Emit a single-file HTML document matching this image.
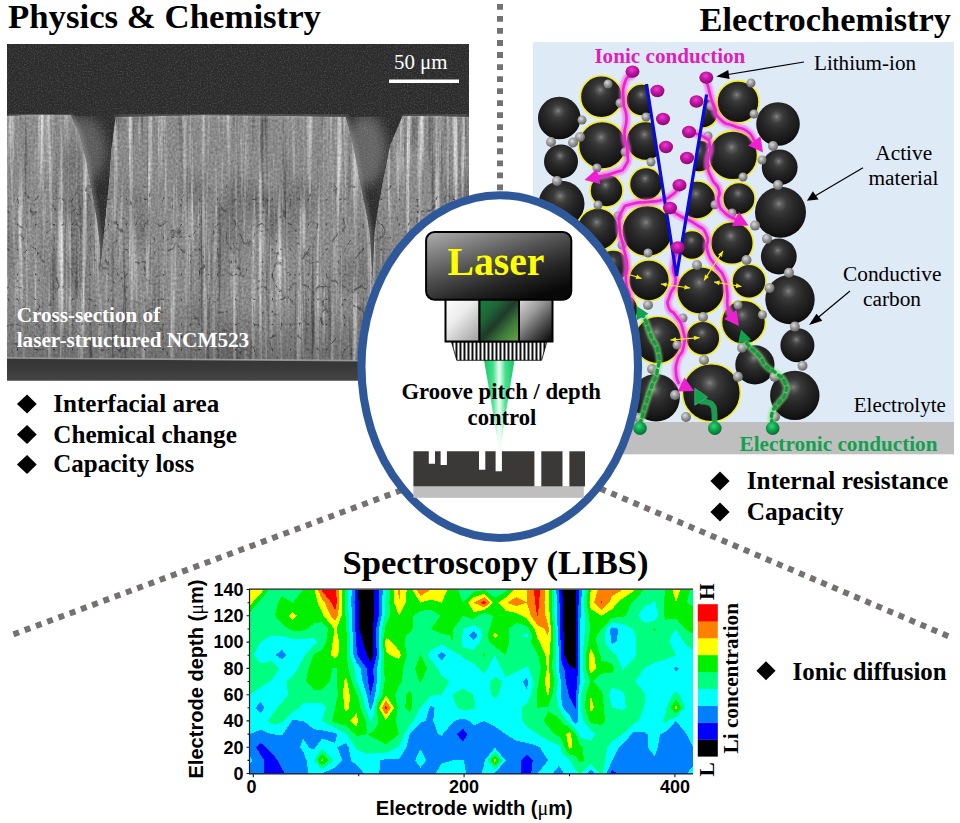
<!DOCTYPE html>
<html>
<head>
<meta charset="utf-8">
<title>Laser structuring of battery electrodes</title>
<style>
html,body{margin:0;padding:0;background:#fff;}
body{width:960px;height:823px;overflow:hidden;font-family:"Liberation Serif",serif;}
svg{display:block;position:absolute;left:0;top:0;}
svg{font-family:"Liberation Serif",serif;}
.b{font-weight:bold;}
.sans,.sans text{font-family:"Liberation Sans",sans-serif;font-weight:bold;}
</style>
</head>
<body>
<svg width="960" height="823" viewBox="0 0 960 823">
<rect x="0" y="0" width="960" height="823" fill="#ffffff"/>
<!-- ===== SEM image ===== -->
<defs>
  <clipPath id="gr1"><path d="M68,116 L118,116 L101,270 Z"/></clipPath><clipPath id="gr2"><path d="M344,117 L405,116 L373,280 Z"/></clipPath>
  <clipPath id="semclip"><rect x="7" y="44" width="462" height="336.8"/></clipPath>
  <filter id="streak" x="0" y="0" width="100%" height="100%" color-interpolation-filters="sRGB">
    <feTurbulence type="fractalNoise" baseFrequency="0.17 0.005" numOctaves="4" seed="7" result="n1"/>
    <feColorMatrix in="n1" type="matrix" values="0 0 0 0 1  0 0 0 0 1  0 0 0 0 1  2.1 0 0 0 -1.06" result="light"/>
    <feColorMatrix in="n1" type="matrix" values="0 0 0 0 0  0 0 0 0 0  0 0 0 0 0  0 -1.5 0 0 0.6" result="dark"/>
    <feTurbulence type="fractalNoise" baseFrequency="0.02 0.012" numOctaves="2" seed="5" result="n3"/>
    <feColorMatrix in="n3" type="matrix" values="0 0 0 0 0  0 0 0 0 0  0 0 0 0 0  0 0 -0.7 0 0.33" result="blot"/>
    <feMerge result="m"><feMergeNode in="SourceGraphic"/><feMergeNode in="blot"/><feMergeNode in="dark"/><feMergeNode in="light"/></feMerge>
    <feTurbulence type="fractalNoise" baseFrequency="0.45 0.35" numOctaves="2" seed="3" result="n2"/>
    <feColorMatrix in="n2" type="matrix" values="0 1 0 0 0  0 1 0 0 0  0 1 0 0 0  0 0 0 0 1" result="g2"/>
    <feComposite in="m" in2="g2" operator="arithmetic" k1="0" k2="1" k3="0.26" k4="-0.13" result="mix"/>
    <feComposite in="mix" in2="SourceGraphic" operator="in"/>
  </filter>
  <filter id="pores" x="0" y="0" width="100%" height="100%" color-interpolation-filters="sRGB">
    <feTurbulence type="turbulence" baseFrequency="0.055 0.04" numOctaves="3" seed="21" result="t"/>
    <feColorMatrix in="t" type="matrix" values="0 0 0 0 0.25  0 0 0 0 0.25  0 0 0 0 0.25  -9 0 0 0 0.95" result="a"/>
    <feComposite in="a" in2="SourceGraphic" operator="in"/>
  </filter>
  <filter id="grain" x="0" y="0" width="100%" height="100%" color-interpolation-filters="sRGB">
    <feTurbulence type="fractalNoise" baseFrequency="0.7" numOctaves="2" seed="11" result="n"/>
    <feColorMatrix in="n" type="matrix" values="0 0 0 0 1  0 0 0 0 1  0 0 0 0 1  0 0.35 0 0 -0.15" result="a"/>
    <feMerge><feMergeNode in="SourceGraphic"/><feMergeNode in="a"/></feMerge>
  </filter>
  <filter id="b2" x="-20%" y="-20%" width="140%" height="140%"><feGaussianBlur stdDeviation="2.2"/></filter>
  <filter id="b6" x="-30%" y="-30%" width="160%" height="160%"><feGaussianBlur stdDeviation="6"/></filter>
  <linearGradient id="botstrip" x1="0" y1="0" x2="0" y2="1">
    <stop offset="0" stop-color="#343434"/><stop offset="0.45" stop-color="#3a3a3a"/><stop offset="1" stop-color="#454545"/>
  </linearGradient>
  <linearGradient id="lowfade" x1="0" y1="0" x2="0" y2="1">
    <stop offset="0" stop-color="#000" stop-opacity="0"/><stop offset="1" stop-color="#000" stop-opacity="0.22"/>
  </linearGradient>
</defs>
<g clip-path="url(#semclip)">
  <rect x="7" y="44" width="462" height="336" fill="#2b2b2b"/>
  <!-- haze inside grooves -->
  <g clip-path="url(#gr1)"><ellipse cx="82" cy="150" rx="24" ry="34" fill="#5c5c5c" filter="url(#b6)"/></g>
  <g clip-path="url(#gr2)"><ellipse cx="366" cy="150" rx="20" ry="36" fill="#646464" filter="url(#b6)"/></g>
  <rect x="7" y="44" width="462" height="336" fill="#000" fill-opacity="0" filter="url(#grain)"/>
  <!-- material blocks -->
  <g filter="url(#streak)">
    <path id="semblocks" d="M7,116 L30,114.5 L71,115 L80,135 L86,160 L92,190 L97,220 L100,245 L100.5,266 L102,250 L105,220 L108.8,182 L111,150 L115.5,117 L200,115 L300,116 L346,117 L352,140 L358,170 L364,200 L369.5,230 L372.5,276 L374.5,232 L377.5,210 L382.5,182 L390,145 L402.5,116 L440,116 L469,117 L469,362 L7,358.5 Z" fill="#8a8a8a"/>
  </g>
  <g filter="url(#pores)"><rect x="7" y="185" width="462" height="173" fill="#fff"/></g>
  <!-- bright rims -->
  <path d="M7,116 L30,114.5 L71,115 M115.5,117 L200,115 L300,116 L346,117 M402.5,116 L440,116 L469,117" fill="none" stroke="#c4c4c4" stroke-width="2.2" stroke-opacity="0.6" filter="url(#b2)"/>
  <path d="M71,115 L80,135 L86,160 L92,190 L97,220 L100,245 L100.5,266 M346,117 L352,140 L358,170 L364,200 L369.5,230 L372.5,276" fill="none" stroke="#bdbdbd" stroke-width="3" stroke-opacity="0.55" filter="url(#b2)"/>
  <rect x="7" y="300" width="462" height="62" fill="url(#lowfade)"/>
  <path d="M7,358 L469,361.5 L469,381 L7,381 Z" fill="url(#botstrip)"/>
  <path d="M7,358 L469,361.5" stroke="#b0b0b0" stroke-width="1.6" stroke-opacity="0.75"/>
</g>
<rect x="389" y="79.5" width="70" height="3.5" fill="#ffffff"/>
<text x="394" y="69" font-size="21.33" fill="#ffffff" textLength="53.5" lengthAdjust="spacingAndGlyphs">50 μm</text>
<!-- ===== Electrochemistry panel ===== -->
<defs>
  <radialGradient id="sg" cx="0.47" cy="0.36" r="0.62" fx="0.47" fy="0.33">
    <stop offset="0" stop-color="#858585"/><stop offset="0.1" stop-color="#5c5c5c"/><stop offset="0.25" stop-color="#3a3a3a"/><stop offset="0.5" stop-color="#282828"/><stop offset="0.85" stop-color="#181818"/><stop offset="1" stop-color="#0e0e0e"/>
  </radialGradient>
  <radialGradient id="gg" cx="0.4" cy="0.35" r="0.7">
    <stop offset="0" stop-color="#dcdcdc"/><stop offset="0.45" stop-color="#9c9c9c"/><stop offset="1" stop-color="#5e5e5e"/>
  </radialGradient>
  <radialGradient id="ig" cx="0.45" cy="0.35" r="0.7">
    <stop offset="0" stop-color="#e93fd0"/><stop offset="0.45" stop-color="#c213a4"/><stop offset="1" stop-color="#7a0a66"/>
  </radialGradient>
  <radialGradient id="eg" cx="0.42" cy="0.35" r="0.7">
    <stop offset="0" stop-color="#3ed07a"/><stop offset="0.5" stop-color="#0aa14a"/><stop offset="1" stop-color="#04662c"/>
  </radialGradient>
  <filter id="blur1" x="-20%" y="-20%" width="140%" height="140%"><feGaussianBlur stdDeviation="1.3"/></filter>
  <clipPath id="panelclip"><rect x="533" y="42" width="421" height="412"/></clipPath>
</defs>
<rect x="533" y="42" width="421" height="380" fill="#dfeaf7"/>
<rect x="533" y="422" width="421" height="32.3" fill="#bfbfbf"/>
<g clip-path="url(#panelclip)">
<g id="bigs">
<circle cx="559.3" cy="118" r="21.3" fill="url(#sg)"/>
<circle cx="561" cy="161.4" r="17" fill="url(#sg)"/>
<circle cx="561.5" cy="203.8" r="23" fill="url(#sg)"/>
<circle cx="601.4" cy="96.8" r="21" fill="url(#sg)" stroke="#f4ee1c" stroke-width="1.6"/>
<circle cx="602.3" cy="145.2" r="23.8" fill="url(#sg)" stroke="#f4ee1c" stroke-width="1.6"/>
<circle cx="606.5" cy="190.5" r="16.5" fill="url(#sg)" stroke="#f4ee1c" stroke-width="1.6"/>
<circle cx="598" cy="229.3" r="21" fill="url(#sg)" stroke="#f4ee1c" stroke-width="1.6"/>
<circle cx="613" cy="266" r="16" fill="url(#sg)" stroke="#f4ee1c" stroke-width="1.6"/>
<circle cx="642" cy="100" r="16" fill="url(#sg)" stroke="#f4ee1c" stroke-width="1.6"/>
<circle cx="645.6" cy="141" r="19.5" fill="url(#sg)" stroke="#f4ee1c" stroke-width="1.6"/>
<circle cx="646" cy="184" r="16.5" fill="url(#sg)" stroke="#f4ee1c" stroke-width="1.6"/>
<circle cx="647.3" cy="231" r="25.5" fill="url(#sg)" stroke="#f4ee1c" stroke-width="1.6"/>
<circle cx="649" cy="280.3" r="20.4" fill="url(#sg)" stroke="#f4ee1c" stroke-width="1.6"/>
<circle cx="703" cy="113" r="15" fill="url(#sg)" stroke="#f4ee1c" stroke-width="1.6"/>
<circle cx="699" cy="156" r="16" fill="url(#sg)" stroke="#f4ee1c" stroke-width="1.6"/>
<circle cx="697" cy="200" r="19" fill="url(#sg)" stroke="#f4ee1c" stroke-width="1.6"/>
<circle cx="692" cy="245" r="14.5" fill="url(#sg)" stroke="#f4ee1c" stroke-width="1.6"/>
<circle cx="738" cy="101.9" r="21" fill="url(#sg)" stroke="#f4ee1c" stroke-width="1.6"/>
<circle cx="733" cy="155.4" r="24.5" fill="url(#sg)" stroke="#f4ee1c" stroke-width="1.6"/>
<circle cx="738.9" cy="198.7" r="16.2" fill="url(#sg)" stroke="#f4ee1c" stroke-width="1.6"/>
<circle cx="732" cy="243" r="21.3" fill="url(#sg)" stroke="#f4ee1c" stroke-width="1.6"/>
<circle cx="749" cy="281.2" r="17" fill="url(#sg)" stroke="#f4ee1c" stroke-width="1.6"/>
<circle cx="700.6" cy="290.5" r="23.8" fill="url(#sg)" stroke="#f4ee1c" stroke-width="1.6"/>
<circle cx="743.5" cy="322.2" r="22" fill="url(#sg)" stroke="#f4ee1c" stroke-width="1.6"/>
<circle cx="702.9" cy="338.3" r="17" fill="url(#sg)" stroke="#f4ee1c" stroke-width="1.6"/>
<circle cx="657.8" cy="340" r="23.8" fill="url(#sg)" stroke="#f4ee1c" stroke-width="1.6"/>
<circle cx="711.4" cy="392.7" r="29" fill="url(#sg)" stroke="#f4ee1c" stroke-width="1.6"/>
<circle cx="778" cy="124" r="21.8" fill="url(#sg)"/>
<circle cx="779.7" cy="167.3" r="17.9" fill="url(#sg)"/>
<circle cx="780.5" cy="212.3" r="25.5" fill="url(#sg)"/>
<circle cx="778.8" cy="256.5" r="17.9" fill="url(#sg)"/>
<circle cx="790" cy="299.5" r="24.7" fill="url(#sg)"/>
<circle cx="797.4" cy="345.3" r="17" fill="url(#sg)"/>
<circle cx="794.8" cy="395.4" r="24.7" fill="url(#sg)"/>
<circle cx="754.9" cy="364.8" r="19.6" fill="url(#sg)"/>
<circle cx="656" cy="397.8" r="23.8" fill="url(#sg)"/>
<circle cx="620" cy="310" r="18" fill="url(#sg)" stroke="#f4ee1c" stroke-width="1.6"/>
<circle cx="610" cy="360" r="20" fill="url(#sg)"/>
<circle cx="615" cy="400" r="22" fill="url(#sg)"/>
</g>
<g id="smallA">
<circle cx="580" cy="137" r="5" fill="url(#gg)"/>
<circle cx="573" cy="142.5" r="5" fill="url(#gg)"/>
<circle cx="582" cy="120" r="4.5" fill="url(#gg)"/>
<circle cx="608" cy="84" r="4.5" fill="url(#gg)"/>
<circle cx="620" cy="103" r="4.5" fill="url(#gg)"/>
<circle cx="551" cy="142" r="5" fill="url(#gg)"/>
<circle cx="557" cy="181" r="5" fill="url(#gg)"/>
<circle cx="597" cy="168" r="4.5" fill="url(#gg)"/>
<circle cx="625" cy="152" r="4.5" fill="url(#gg)"/>
<circle cx="646" cy="117" r="4.5" fill="url(#gg)"/>
<circle cx="651" cy="162" r="4.5" fill="url(#gg)"/>
<circle cx="751" cy="83" r="4.5" fill="url(#gg)"/>
<circle cx="711" cy="106" r="4.5" fill="url(#gg)"/>
<circle cx="754" cy="114" r="4.5" fill="url(#gg)"/>
<circle cx="773" cy="146" r="5" fill="url(#gg)"/>
<circle cx="762" cy="160" r="4.5" fill="url(#gg)"/>
<circle cx="743" cy="177" r="4.5" fill="url(#gg)"/>
<circle cx="708" cy="136" r="4.5" fill="url(#gg)"/>
<circle cx="778" cy="185" r="5" fill="url(#gg)"/>
<circle cx="755" cy="225.6" r="5" fill="url(#gg)"/>
<circle cx="767" cy="238.7" r="5" fill="url(#gg)"/>
<circle cx="789" cy="272.7" r="5" fill="url(#gg)"/>
<circle cx="769.5" cy="288" r="5" fill="url(#gg)"/>
<circle cx="697" cy="265" r="5" fill="url(#gg)"/>
<circle cx="746.5" cy="260" r="5" fill="url(#gg)"/>
<circle cx="732" cy="213" r="4.5" fill="url(#gg)"/>
<circle cx="715" cy="204.7" r="4.5" fill="url(#gg)"/>
<circle cx="794.8" cy="326.6" r="5" fill="url(#gg)"/>
<circle cx="802.5" cy="365.7" r="5" fill="url(#gg)"/>
<circle cx="774.4" cy="376.7" r="5" fill="url(#gg)"/>
<circle cx="737.9" cy="376.7" r="5" fill="url(#gg)"/>
<circle cx="762.5" cy="314.7" r="4.5" fill="url(#gg)"/>
<circle cx="742" cy="347.8" r="5" fill="url(#gg)"/>
<circle cx="775" cy="416.7" r="5" fill="url(#gg)"/>
<circle cx="648" cy="305" r="5" fill="url(#gg)"/>
<circle cx="703" cy="317" r="5" fill="url(#gg)"/>
<circle cx="704" cy="360" r="5" fill="url(#gg)"/>
<circle cx="677" cy="345" r="4.5" fill="url(#gg)"/>
<circle cx="652" cy="369" r="5" fill="url(#gg)"/>
<circle cx="675" cy="395" r="5" fill="url(#gg)"/>
<circle cx="686" cy="417" r="5" fill="url(#gg)"/>
<circle cx="639" cy="418" r="5" fill="url(#gg)"/>
<circle cx="738" cy="305" r="4.5" fill="url(#gg)"/>
<circle cx="648" cy="253" r="4.5" fill="url(#gg)"/>
<circle cx="618" cy="216" r="4.5" fill="url(#gg)"/>
<circle cx="598" cy="205" r="4.5" fill="url(#gg)"/>
<circle cx="622" cy="245" r="4.5" fill="url(#gg)"/>
<circle cx="683" cy="318" r="4.5" fill="url(#gg)"/>
</g>
<path d="M646.5,84 L676.5,276 L706.6,94.6 L706.6,60 L646.5,60 Z" fill="#dfeaf7" id="wedge"/>
<path d="M631.5,76.0 C629.3,78.0 627.7,73.7 625.0,82.0 C622.3,90.3 623.0,89.0 623.5,101.0 C624.0,113.0 626.2,106.7 626.5,118.0 C626.8,129.3 624.2,123.7 624.5,135.0 C624.8,146.3 627.3,141.7 627.5,152.0 C627.7,162.3 629.4,159.2 625.2,166.0 C621.0,172.8 624.1,169.0 615.0,172.5 C605.9,176.0 603.7,175.2 598.0,176.5" fill="none" stroke="#f560e2" stroke-opacity="0.7" stroke-width="7.5" stroke-linecap="round" filter="url(#blur1)"/>
<path d="M706.5,81.0 C707.2,83.3 706.3,80.3 708.5,88.0 C710.7,95.7 709.2,93.7 713.0,104.0 C716.8,114.3 713.0,111.7 720.0,119.0 C727.0,126.3 725.0,122.0 734.0,126.0 C743.0,130.0 740.3,126.3 747.0,131.0 C753.7,135.7 751.7,137.0 754.0,140.0" fill="none" stroke="#f560e2" stroke-opacity="0.7" stroke-width="7.5" stroke-linecap="round" filter="url(#blur1)"/>
<path d="M691.0,133.0 C695.0,134.2 696.7,132.2 703.0,136.5 C709.3,140.8 708.5,137.2 710.0,146.0 C711.5,154.8 707.0,152.3 707.5,163.0 C708.0,173.7 707.7,169.0 711.5,178.0 C715.3,187.0 716.7,182.0 719.0,190.0 C721.3,198.0 716.5,194.3 718.5,202.0 C720.5,209.7 719.5,207.3 725.0,213.0 C730.5,218.7 731.7,217.0 735.0,219.0" fill="none" stroke="#f560e2" stroke-opacity="0.7" stroke-width="7.5" stroke-linecap="round" filter="url(#blur1)"/>
<path d="M672.0,211.0 C675.3,213.0 674.2,212.7 682.0,217.0 C689.8,221.3 687.3,218.0 695.5,224.0 C703.7,230.0 702.5,226.0 706.5,235.0 C710.5,244.0 704.7,241.0 707.5,251.0 C710.3,261.0 709.7,256.7 715.0,265.0 C720.3,273.3 719.5,267.3 723.5,276.0 C727.5,284.7 725.7,281.0 727.0,291.0 C728.3,301.0 726.5,298.3 727.5,306.0 C728.5,313.7 729.2,311.3 730.0,314.0" fill="none" stroke="#f560e2" stroke-opacity="0.7" stroke-width="7.5" stroke-linecap="round" filter="url(#blur1)"/>
<path d="M678.0,189.0 C676.0,191.0 677.3,191.3 672.0,195.0 C666.7,198.7 670.0,197.7 662.0,200.0 C654.0,202.3 658.0,200.7 648.0,202.0 C638.0,203.3 640.7,201.0 632.0,204.0 C623.3,207.0 626.2,203.3 622.0,211.0 C617.8,218.7 619.0,215.0 619.5,227.0 C620.0,239.0 621.0,234.3 623.5,247.0 C626.0,259.7 626.2,253.3 627.0,265.0 C627.8,276.7 625.0,270.7 626.0,282.0 C627.0,293.3 629.3,287.7 630.0,299.0 C630.7,310.3 627.0,304.0 628.0,316.0 C629.0,328.0 632.3,323.0 633.0,335.0 C633.7,347.0 631.0,346.3 630.0,352.0" fill="none" stroke="#f560e2" stroke-opacity="0.7" stroke-width="7.5" stroke-linecap="round" filter="url(#blur1)"/>
<path d="M677.0,252.0 C675.7,257.0 673.5,257.0 673.0,267.0 C672.5,277.0 676.5,272.7 675.5,282.0 C674.5,291.3 672.3,286.7 670.0,295.0 C667.7,303.3 666.5,300.0 668.5,307.0 C670.5,314.0 671.2,308.3 676.0,316.0 C680.8,323.7 680.5,319.7 683.0,330.0 C685.5,340.3 685.3,337.0 683.5,347.0 C681.7,357.0 680.0,351.3 677.5,360.0 C675.0,368.7 675.7,365.3 676.0,373.0 C676.3,380.7 677.7,379.7 678.5,383.0" fill="none" stroke="#f560e2" stroke-opacity="0.7" stroke-width="7.5" stroke-linecap="round" filter="url(#blur1)"/>
<path d="M631.5,76.0 C629.3,78.0 627.7,73.7 625.0,82.0 C622.3,90.3 623.0,89.0 623.5,101.0 C624.0,113.0 626.2,106.7 626.5,118.0 C626.8,129.3 624.2,123.7 624.5,135.0 C624.8,146.3 627.3,141.7 627.5,152.0 C627.7,162.3 629.4,159.2 625.2,166.0 C621.0,172.8 624.1,169.0 615.0,172.5 C605.9,176.0 603.7,175.2 598.0,176.5" fill="none" stroke="#ee22d0" stroke-width="2.6" stroke-linecap="round"/>
<path d="M584.5,180.0 L596.7,169.0 L600.4,184.0 Z" fill="#ee1fd0"/>
<path d="M706.5,81.0 C707.2,83.3 706.3,80.3 708.5,88.0 C710.7,95.7 709.2,93.7 713.0,104.0 C716.8,114.3 713.0,111.7 720.0,119.0 C727.0,126.3 725.0,122.0 734.0,126.0 C743.0,130.0 740.3,126.3 747.0,131.0 C753.7,135.7 751.7,137.0 754.0,140.0" fill="none" stroke="#ee22d0" stroke-width="2.6" stroke-linecap="round"/>
<path d="M763.0,152.5 L748.1,145.6 L760.5,136.2 Z" fill="#ee1fd0"/>
<path d="M691.0,133.0 C695.0,134.2 696.7,132.2 703.0,136.5 C709.3,140.8 708.5,137.2 710.0,146.0 C711.5,154.8 707.0,152.3 707.5,163.0 C708.0,173.7 707.7,169.0 711.5,178.0 C715.3,187.0 716.7,182.0 719.0,190.0 C721.3,198.0 716.5,194.3 718.5,202.0 C720.5,209.7 719.5,207.3 725.0,213.0 C730.5,218.7 731.7,217.0 735.0,219.0" fill="none" stroke="#ee22d0" stroke-width="2.6" stroke-linecap="round"/>
<path d="M748.5,225.5 L732.1,225.9 L739.0,212.1 Z" fill="#ee1fd0"/>
<path d="M672.0,211.0 C675.3,213.0 674.2,212.7 682.0,217.0 C689.8,221.3 687.3,218.0 695.5,224.0 C703.7,230.0 702.5,226.0 706.5,235.0 C710.5,244.0 704.7,241.0 707.5,251.0 C710.3,261.0 709.7,256.7 715.0,265.0 C720.3,273.3 719.5,267.3 723.5,276.0 C727.5,284.7 725.7,281.0 727.0,291.0 C728.3,301.0 726.5,298.3 727.5,306.0 C728.5,313.7 729.2,311.3 730.0,314.0" fill="none" stroke="#ee22d0" stroke-width="2.6" stroke-linecap="round"/>
<path d="M739.0,326.0 L724.1,319.0 L736.5,309.8 Z" fill="#ee1fd0"/>
<path d="M678.0,189.0 C676.0,191.0 677.3,191.3 672.0,195.0 C666.7,198.7 670.0,197.7 662.0,200.0 C654.0,202.3 658.0,200.7 648.0,202.0 C638.0,203.3 640.7,201.0 632.0,204.0 C623.3,207.0 626.2,203.3 622.0,211.0 C617.8,218.7 619.0,215.0 619.5,227.0 C620.0,239.0 621.0,234.3 623.5,247.0 C626.0,259.7 626.2,253.3 627.0,265.0 C627.8,276.7 625.0,270.7 626.0,282.0 C627.0,293.3 629.3,287.7 630.0,299.0 C630.7,310.3 627.0,304.0 628.0,316.0 C629.0,328.0 632.3,323.0 633.0,335.0 C633.7,347.0 631.0,346.3 630.0,352.0" fill="none" stroke="#ee22d0" stroke-width="2.6" stroke-linecap="round"/>
<path d="M677.0,252.0 C675.7,257.0 673.5,257.0 673.0,267.0 C672.5,277.0 676.5,272.7 675.5,282.0 C674.5,291.3 672.3,286.7 670.0,295.0 C667.7,303.3 666.5,300.0 668.5,307.0 C670.5,314.0 671.2,308.3 676.0,316.0 C680.8,323.7 680.5,319.7 683.0,330.0 C685.5,340.3 685.3,337.0 683.5,347.0 C681.7,357.0 680.0,351.3 677.5,360.0 C675.0,368.7 675.7,365.3 676.0,373.0 C676.3,380.7 677.7,379.7 678.5,383.0" fill="none" stroke="#ee22d0" stroke-width="2.6" stroke-linecap="round"/>
<path d="M694.0,391.0 L677.6,391.4 L684.5,377.6 Z" fill="#ee1fd0"/>
<path d="M714.5,424.0 C714.4,420.0 715.0,418.2 714.3,412.0 C713.6,405.8 714.6,408.7 712.5,405.5 C710.4,402.3 711.7,403.8 708.0,402.5 C704.3,401.2 703.7,401.8 701.5,401.5" fill="none" stroke="#59c47a" stroke-width="6" stroke-linecap="round" stroke-opacity="0.6"/>
<path d="M714.5,424.0 C714.4,420.0 715.0,418.2 714.3,412.0 C713.6,405.8 714.6,408.7 712.5,405.5 C710.4,402.3 711.7,403.8 708.0,402.5 C704.3,401.2 703.7,401.8 701.5,401.5" fill="none" stroke="#12a14f" stroke-width="4.2" stroke-linecap="butt"/>
<path d="M694.8,388.2 L694.8,405.2 L707.6,397.2 Z" fill="#12a14f" stroke="#3fb868" stroke-width="0.8"/>
<path d="M640.0,424.0 C641.7,418.3 641.3,419.0 645.0,407.0 C648.7,395.0 646.8,400.3 651.0,388.0 C655.2,375.7 655.2,382.0 657.5,370.0 C659.8,358.0 660.2,363.3 658.0,352.0 C655.8,340.7 655.0,346.0 651.0,336.0 C647.0,326.0 649.0,329.3 646.0,322.0 C643.0,314.7 643.3,316.7 642.0,314.0" fill="none" stroke="#7fe07a" stroke-opacity="0.75" stroke-width="6.5" stroke-linecap="round" filter="url(#blur1)"/>
<path d="M640.0,424.0 C641.7,418.3 641.3,419.0 645.0,407.0 C648.7,395.0 646.8,400.3 651.0,388.0 C655.2,375.7 655.2,382.0 657.5,370.0 C659.8,358.0 660.2,363.3 658.0,352.0 C655.8,340.7 655.0,346.0 651.0,336.0 C647.0,326.0 649.0,329.3 646.0,322.0 C643.0,314.7 643.3,316.7 642.0,314.0" fill="none" stroke="#159a3f" stroke-width="3.4" stroke-linecap="round" stroke-dasharray="3.4 4.2"/>
<path d="M636.5,306.0 L648.4,313.7 L636.6,320.2 Z" fill="#12a14f"/>
<path d="M772.0,424.0 C772.2,420.0 770.2,419.2 772.5,412.0 C774.8,404.8 774.7,408.8 779.0,402.5 C783.3,396.2 783.7,399.8 785.5,393.0 C787.3,386.2 787.5,388.5 784.5,382.0 C781.5,375.5 782.5,378.7 776.5,373.5 C770.5,368.3 772.2,372.2 766.5,366.5 C760.8,360.8 764.5,362.5 759.5,356.5 C754.5,350.5 756.2,353.3 751.5,348.5 C746.8,343.7 747.5,344.2 745.5,342.0" fill="none" stroke="#7fe07a" stroke-opacity="0.75" stroke-width="6.5" stroke-linecap="round" filter="url(#blur1)"/>
<path d="M772.0,424.0 C772.2,420.0 770.2,419.2 772.5,412.0 C774.8,404.8 774.7,408.8 779.0,402.5 C783.3,396.2 783.7,399.8 785.5,393.0 C787.3,386.2 787.5,388.5 784.5,382.0 C781.5,375.5 782.5,378.7 776.5,373.5 C770.5,368.3 772.2,372.2 766.5,366.5 C760.8,360.8 764.5,362.5 759.5,356.5 C754.5,350.5 756.2,353.3 751.5,348.5 C746.8,343.7 747.5,344.2 745.5,342.0" fill="none" stroke="#159a3f" stroke-width="3.4" stroke-linecap="round" stroke-dasharray="3.4 4.2"/>
<path d="M741.0,329.5 L751.1,339.5 L738.1,343.4 Z" fill="#12a14f"/>
<line x1="629" y1="274.5" x2="641.5" y2="278.5" stroke="#f6ee12" stroke-width="1.2"/>
<path d="M641.5,278.5 L635.6,279.0 L637.0,274.6 Z" fill="#f6ee12"/>
<line x1="661" y1="284" x2="690" y2="288" stroke="#f6ee12" stroke-width="1.2"/>
<path d="M690.0,288.0 L684.2,289.5 L684.9,285.0 Z" fill="#f6ee12"/>
<path d="M661.0,284.0 L666.8,282.5 L666.1,287.0 Z" fill="#f6ee12"/>
<line x1="723" y1="251" x2="704" y2="280.5" stroke="#f6ee12" stroke-width="1.2"/>
<path d="M704.0,280.5 L705.0,274.6 L708.9,277.1 Z" fill="#f6ee12"/>
<path d="M723.0,251.0 L722.0,256.9 L718.1,254.4 Z" fill="#f6ee12"/>
<line x1="714" y1="282" x2="741.5" y2="286.5" stroke="#f6ee12" stroke-width="1.2"/>
<path d="M741.5,286.5 L735.7,287.9 L736.4,283.3 Z" fill="#f6ee12"/>
<path d="M714.0,282.0 L719.8,280.6 L719.1,285.2 Z" fill="#f6ee12"/>
<line x1="670.5" y1="340" x2="699.5" y2="337.6" stroke="#f6ee12" stroke-width="1.2"/>
<path d="M699.5,337.6 L694.2,340.3 L693.8,335.8 Z" fill="#f6ee12"/>
<path d="M670.5,340.0 L675.8,337.3 L676.2,341.8 Z" fill="#f6ee12"/>
<path d="M646.5,84 L676.5,276 L706.6,94.6" fill="none" stroke="#0a0adf" stroke-width="3.2" stroke-linejoin="miter"/>
<ellipse cx="632.5" cy="71.6" rx="7" ry="6.2" fill="url(#ig)"/>
<ellipse cx="657.4" cy="91" rx="7" ry="6.2" fill="url(#ig)"/>
<ellipse cx="663" cy="119" rx="7" ry="6.2" fill="url(#ig)"/>
<ellipse cx="666" cy="147" rx="7" ry="6.2" fill="url(#ig)"/>
<ellipse cx="679.5" cy="185.2" rx="7" ry="6.2" fill="url(#ig)"/>
<ellipse cx="670" cy="208" rx="7" ry="6.2" fill="url(#ig)"/>
<ellipse cx="677.8" cy="247.5" rx="7" ry="6.2" fill="url(#ig)"/>
<ellipse cx="706.3" cy="77.6" rx="7" ry="6.2" fill="url(#ig)"/>
<ellipse cx="696.5" cy="101.5" rx="7" ry="6.2" fill="url(#ig)"/>
<ellipse cx="689" cy="132" rx="7" ry="6.2" fill="url(#ig)"/>
<ellipse cx="687" cy="158" rx="7" ry="6.2" fill="url(#ig)"/>
<circle cx="640" cy="428.2" r="6.8" fill="url(#eg)"/>
<circle cx="714.8" cy="428.2" r="6.8" fill="url(#eg)"/>
<circle cx="772.7" cy="428.2" r="6.8" fill="url(#eg)"/>
</g>
<!-- ===== dotted connector lines ===== -->
<g stroke="#767171" stroke-width="6" fill="none">
<line x1="500" y1="4" x2="500" y2="200" stroke-dasharray="5.8 6.23"/>
<line x1="13.44" y1="634.35" x2="416.5" y2="484.6" stroke-dasharray="6 6"/>
<line x1="948.2" y1="636.2" x2="580" y2="480" stroke-dasharray="6 6"/>
</g>
<!-- ===== central ellipse with laser ===== -->
<defs>
  <linearGradient id="lasbox" x1="0" y1="0" x2="0.7" y2="1">
    <stop offset="0" stop-color="#b0b0b0"/><stop offset="0.22" stop-color="#858585"/><stop offset="0.5" stop-color="#505050"/><stop offset="0.75" stop-color="#262626"/><stop offset="1" stop-color="#080808"/>
  </linearGradient>
  <linearGradient id="boxL" x1="0" y1="0" x2="0.8" y2="1">
    <stop offset="0" stop-color="#ffffff"/><stop offset="0.45" stop-color="#ececec"/><stop offset="1" stop-color="#a8a8a8"/>
  </linearGradient>
  <linearGradient id="boxR" x1="0" y1="0" x2="0.8" y2="1">
    <stop offset="0" stop-color="#dedede"/><stop offset="0.4" stop-color="#9a9a9a"/><stop offset="0.75" stop-color="#484848"/><stop offset="1" stop-color="#161616"/>
  </linearGradient>
  <linearGradient id="boxG" x1="0" y1="0" x2="1" y2="1">
    <stop offset="0" stop-color="#15853f"/><stop offset="0.3" stop-color="#1d6436"/><stop offset="0.5" stop-color="#1f3a29"/><stop offset="0.72" stop-color="#3d7a3a"/><stop offset="1" stop-color="#68a846"/>
  </linearGradient>
  <linearGradient id="beamH" x1="0" y1="0" x2="1" y2="0">
    <stop offset="0" stop-color="#19c463"/><stop offset="0.3" stop-color="#3fe08a"/><stop offset="0.5" stop-color="#f2fff6"/><stop offset="0.7" stop-color="#3fe08a"/><stop offset="1" stop-color="#19c463"/>
  </linearGradient>
  <linearGradient id="beamFade" x1="0" y1="0" x2="0" y2="1">
    <stop offset="0" stop-color="#fff" stop-opacity="0"/><stop offset="0.55" stop-color="#fff" stop-opacity="0.1"/><stop offset="1" stop-color="#fff" stop-opacity="0.75"/>
  </linearGradient>
  <pattern id="fins" x="451.5" y="0" width="4" height="10" patternUnits="userSpaceOnUse">
    <rect x="0" y="0" width="4" height="10" fill="#ffffff"/><rect x="0" y="0" width="1.9" height="10" fill="#000000"/>
  </pattern>
</defs>
<ellipse cx="499.75" cy="366.6" rx="138.3" ry="171.4" fill="#ffffff" stroke="#2f589b" stroke-width="8.1"/>
<!-- beam -->
<path d="M484,360 L514.5,360 L499.6,451 Z" fill="url(#beamH)"/>
<path d="M484,360 L514.5,360 L499.6,451 Z" fill="url(#beamFade)"/>
<!-- fins -->
<path d="M451.5,342 L546.8,342 L541.6,360.3 L456.8,360.3 Z" fill="url(#fins)" stroke="#000" stroke-width="0.8"/>
<!-- three boxes -->
<rect x="445.5" y="298" width="34" height="43.5" fill="url(#boxL)" stroke="#000" stroke-width="2"/>
<rect x="479.5" y="298" width="39.5" height="43.5" fill="url(#boxG)" stroke="#000" stroke-width="2"/>
<rect x="519" y="298" width="33.5" height="43.5" fill="url(#boxR)" stroke="#000" stroke-width="2"/>
<!-- laser body -->
<rect x="426.1" y="232" width="145.2" height="67.8" rx="8.5" ry="8.5" fill="url(#lasbox)" stroke="#000" stroke-width="2"/>
<text x="447.5" y="274.7" class="b" font-size="40" fill="#ffff00" textLength="97" lengthAdjust="spacingAndGlyphs">Laser</text>
<!-- electrode schematic -->
<rect x="413.4" y="486" width="170.4" height="11.8" fill="#bfbfbf"/>
<path d="M413.4,451.3 H428.8 V463.8 H435 V451.3 H440.6 V465 H446.9 V451.3 H479 V469.7 H485.3 V451.3 H495.6 V471.3 H501.9 V451.3 H534.4 V486.3 H413.4 Z" fill="#3b3838"/>
<rect x="541.3" y="451.3" width="21.2" height="35" fill="#3b3838"/>
<rect x="569.4" y="451.3" width="15.6" height="35" fill="#3b3838"/>
<text x="501.2" y="398.8" class="b" font-size="22.67" text-anchor="middle" fill="#000" textLength="199.5" lengthAdjust="spacingAndGlyphs">Groove pitch / depth</text>
<text x="502" y="425.3" class="b" font-size="22.67" text-anchor="middle" fill="#000">control</text>
<!-- ===== titles and labels ===== -->
<text x="8" y="28.4" class="b" font-size="34.67" fill="#000" textLength="313" lengthAdjust="spacingAndGlyphs">Physics &amp; Chemistry</text>
<text x="699.5" y="30.6" class="b" font-size="34.67" fill="#000" textLength="251.5" lengthAdjust="spacingAndGlyphs">Electrochemistry</text>
<text x="342.5" y="574" class="b" font-size="34.67" fill="#000" textLength="306" lengthAdjust="spacingAndGlyphs">Spectroscopy (LIBS)</text>
<!-- SEM caption -->
<text x="16.7" y="322" class="b" font-size="21.33" fill="#fff" textLength="143.5" lengthAdjust="spacingAndGlyphs">Cross-section of</text>
<text x="16.7" y="347" class="b" font-size="21.33" fill="#fff" textLength="232.5" lengthAdjust="spacingAndGlyphs">laser-structured NCM523</text>
<!-- left bullets -->
<g fill="#000">
<path d="M27.1,394.5 L36.7,404 L27.1,413.5 L16.9,404 Z"/>
<path d="M27.1,425.1 L36.7,434.6 L27.1,444.1 L16.9,434.6 Z"/>
<path d="M27.1,455.1 L36.7,464.6 L27.1,474.1 L16.9,464.6 Z"/>
<text x="53.3" y="411.7" class="b" font-size="25.33" textLength="166" lengthAdjust="spacingAndGlyphs">Interfacial area</text>
<text x="53.3" y="442.5" class="b" font-size="25.33" textLength="183.5" lengthAdjust="spacingAndGlyphs">Chemical change</text>
<text x="53.3" y="472" class="b" font-size="25.33" textLength="141" lengthAdjust="spacingAndGlyphs">Capacity loss</text>
<!-- right bullets -->
<path d="M720,471.5 L729.6,481 L720,490.5 L710.4,481 Z"/>
<path d="M720,502.5 L729.6,512 L720,521.5 L710.4,512 Z"/>
<text x="746.7" y="489.3" class="b" font-size="25.33" textLength="201.5" lengthAdjust="spacingAndGlyphs">Internal resistance</text>
<text x="746.7" y="520.3" class="b" font-size="25.33">Capacity</text>
<path d="M766,661.3 L775.6,670.8 L766,680.3 L756.4,670.8 Z"/>
<text x="792.6" y="679.5" class="b" font-size="25.33" textLength="154" lengthAdjust="spacingAndGlyphs">Ionic diffusion</text>
</g>
<!-- echem labels -->
<text x="594.4" y="62.8" class="b" font-size="21.33" fill="#dd1fbf" textLength="151" lengthAdjust="spacingAndGlyphs">Ionic conduction</text>
<text x="739.5" y="450.5" class="b" font-size="21.33" fill="#12a150" textLength="198" lengthAdjust="spacingAndGlyphs">Electronic conduction</text>
<g fill="#000" font-size="21.33">
<text x="814" y="70" textLength="102" lengthAdjust="spacingAndGlyphs">Lithium-ion</text>
<text x="903.7" y="159.6" text-anchor="middle">Active</text>
<text x="903.4" y="184.8" text-anchor="middle">material</text>
<text x="892.2" y="280.9" text-anchor="middle">Conductive</text>
<text x="892" y="305.7" text-anchor="middle">carbon</text>
<text x="853.8" y="411.9" textLength="92" lengthAdjust="spacingAndGlyphs">Electrolyte</text>
</g>
<!-- label arrows -->
<g stroke="#000" stroke-width="1.2" fill="#000">
<line x1="804" y1="62" x2="725" y2="75"/><path d="M716.3,76.5 L728.2,70 L729.6,79 Z" stroke="none"/>
<line x1="863" y1="167.8" x2="815" y2="196"/><path d="M806.9,200.8 L812.9,191.2 L818.6,199.4 Z" stroke="none"/>
<line x1="850" y1="291" x2="816" y2="319.3"/><path d="M809,325.1 L816.5,313.8 L822.3,320.8 Z" stroke="none"/>
</g>
<!-- ===== LIBS contour plot ===== -->
<defs><clipPath id="plotclip"><rect x="250.0" y="589.5" width="443.0" height="184.0"/></clipPath></defs>
<rect x="250.0" y="589.5" width="443.0" height="184.0" fill="#000000"/>
<g clip-path="url(#plotclip)" shape-rendering="crispEdges">
<path fill="#0000fe" fill-rule="evenodd" d="M260.6 773.5 271.3 773.5 281.9 773.5 292.6 773.5 303.2 773.5 313.9 773.5 322.1 773.5 335.2 773.5 345.9 773.5 356.5 773.5 358.1 773.5 367.1 773.5 370.3 773.5 373.5 773.5 377.8 773.5 385.9 773.5 399.1 773.5 409.8 773.5 420.4 773.5 431.0 773.5 441.7 773.5 452.4 773.5 463.0 773.5 473.6 773.5 484.3 773.5 494.9 773.5 505.6 773.5 516.2 773.5 526.9 773.5 537.5 773.5 548.2 773.5 558.8 773.5 562.0 773.5 569.5 773.5 575.9 773.5 580.1 773.5 590.8 773.5 601.5 773.5 612.1 773.5 622.8 773.5 633.4 773.5 644.0 773.5 654.7 773.5 665.3 773.5 676.0 773.5 686.6 773.5 693.0 773.5 693.0 760.4 693.0 747.2 693.0 734.1 693.0 720.9 693.0 707.8 693.0 694.7 693.0 681.5 693.0 668.4 693.0 655.2 693.0 642.1 693.0 635.5 693.0 629.0 693.0 615.8 693.0 602.7 693.0 589.5 686.6 589.5 676.0 589.5 665.3 589.5 654.7 589.5 644.0 589.5 633.4 589.5 622.8 589.5 612.1 589.5 601.5 589.5 590.8 589.5 580.1 589.5 575.9 589.5 575.9 602.7 575.9 615.8 575.9 629.0 575.9 635.5 575.9 642.1 575.9 655.2 575.9 668.4 575.9 668.9 575.1 668.4 569.5 665.6 564.4 655.2 564.3 642.1 563.8 635.5 563.2 629.0 563.2 615.8 563.2 602.7 562.0 589.5 562.0 589.5 558.8 589.5 548.2 589.5 537.5 589.5 526.9 589.5 516.2 589.5 505.6 589.5 494.9 589.5 484.3 589.5 473.6 589.5 463.0 589.5 452.4 589.5 441.7 589.5 431.0 589.5 420.4 589.5 409.8 589.5 399.1 589.5 385.9 589.5 377.8 589.5 373.9 589.5 373.9 602.7 373.8 615.8 373.5 622.4 373.3 629.0 373.3 635.5 373.3 642.1 373.2 655.2 370.3 662.7 367.3 655.2 367.2 654.8 363.0 642.1 361.5 635.5 359.2 629.0 359.5 615.8 358.6 602.7 358.1 589.5 358.1 589.5 356.5 589.5 345.9 589.5 335.2 589.5 322.1 589.5 313.9 589.5 303.2 589.5 292.6 589.5 281.9 589.5 271.3 589.5 260.6 589.5 250.0 589.5 250.0 602.7 250.0 615.8 250.0 629.0 250.0 635.5 250.0 642.1 250.0 655.2 250.0 668.4 250.0 681.5 250.0 694.7 250.0 707.8 250.0 720.9 250.0 734.1 250.0 747.2 250.0 760.4 250.0 773.5Z"/>
<path fill="#0080ff" fill-rule="evenodd" d="M260.6 773.5 263.8 773.5 264.2 760.4 260.6 754.7 255.9 747.2 260.6 742.8 266.0 747.2 271.3 752.5 277.7 760.4 281.9 769.1 285.0 773.5 292.6 773.5 303.2 773.5 313.9 773.5 322.1 773.5 335.2 773.5 345.9 773.5 356.5 773.5 358.1 773.5 367.1 773.5 370.3 773.5 373.5 773.5 377.8 773.5 385.9 773.5 399.1 773.5 409.8 773.5 420.4 773.5 431.0 773.5 441.7 773.5 452.4 773.5 463.0 773.5 473.6 773.5 484.3 773.5 494.9 773.5 505.6 773.5 516.2 773.5 520.7 773.5 521.1 760.4 526.9 754.3 532.7 760.4 531.3 773.5 537.5 773.5 548.2 773.5 558.8 773.5 562.0 773.5 569.5 773.5 575.9 773.5 580.1 773.5 590.8 773.5 601.5 773.5 610.5 773.5 612.1 769.7 616.8 773.5 622.8 773.5 633.4 773.5 644.0 773.5 654.7 773.5 665.3 773.5 676.0 773.5 686.6 773.5 693.0 773.5 693.0 760.4 693.0 747.2 693.0 734.1 693.0 720.9 693.0 707.8 693.0 694.7 693.0 681.5 693.0 668.4 693.0 655.2 693.0 642.1 693.0 635.5 693.0 629.0 693.0 615.8 693.0 602.7 693.0 589.5 686.6 589.5 676.0 589.5 665.3 589.5 654.7 589.5 644.0 589.5 633.4 589.5 622.8 589.5 612.1 589.5 601.5 589.5 590.8 589.5 580.1 589.5 578.9 589.5 578.6 602.7 578.1 615.8 578.0 629.0 577.9 635.5 577.8 642.1 577.8 655.2 578.0 668.4 577.2 681.5 576.1 694.7 576.0 707.8 575.9 709.3 575.1 707.8 569.5 697.6 568.7 694.7 565.8 681.5 564.4 668.4 562.0 663.8 560.7 655.2 560.6 642.1 560.3 635.5 560.0 629.0 559.5 615.8 559.5 602.7 558.8 589.5 558.8 589.5 548.2 589.5 537.5 589.5 526.9 589.5 516.2 589.5 505.6 589.5 494.9 589.5 484.3 589.5 473.6 589.5 463.0 589.5 452.4 589.5 441.7 589.5 431.0 589.5 420.4 589.5 409.8 589.5 399.1 589.5 385.9 589.5 379.5 589.5 379.0 602.7 378.7 615.8 377.8 620.2 376.2 629.0 376.2 635.5 376.3 642.1 376.8 655.2 373.5 667.7 373.3 668.4 373.5 675.0 373.7 681.5 373.5 682.5 370.6 694.7 370.3 695.4 370.2 694.7 368.2 681.5 367.1 672.1 366.5 668.4 358.1 656.1 357.3 655.2 356.5 646.5 356.3 642.1 355.8 635.5 355.3 629.0 355.5 615.8 354.5 602.7 355.2 589.5 345.9 589.5 335.2 589.5 322.1 589.5 313.9 589.5 303.2 589.5 292.6 589.5 281.9 589.5 271.3 589.5 260.6 589.5 250.0 589.5 250.0 602.7 250.0 615.8 250.0 629.0 250.0 635.5 250.0 642.1 250.0 655.2 250.0 668.4 250.0 681.5 250.0 694.7 250.0 707.8 250.0 720.9 250.0 734.1 250.0 747.2 250.0 760.4 250.0 773.5ZM456.6 734.1 463.0 728.9 467.6 734.1 463.0 742.0Z"/>
<path fill="#00ffff" fill-rule="evenodd" d="M252.4 760.4 250.0 756.6 250.0 760.4 250.0 764.1ZM313.9 773.5 322.1 773.5 322.1 773.5 335.2 767.5 342.3 760.4 337.3 747.2 345.9 743.2 348.6 747.2 351.2 760.4 356.5 765.3 358.1 766.3 364.1 773.5 367.1 773.5 370.3 773.5 373.5 773.5 377.8 773.5 379.2 773.5 380.5 760.4 385.9 759.1 399.1 759.0 406.5 747.2 409.8 734.1 409.8 734.1 420.4 722.8 425.7 720.9 429.3 707.8 431.0 705.8 434.6 707.8 433.2 720.9 438.1 734.1 441.7 736.0 443.0 734.1 452.4 722.6 455.0 720.9 463.0 718.4 469.4 720.9 473.6 725.3 484.3 720.9 484.3 720.9 484.3 720.9 495.0 726.6 505.6 734.1 505.6 734.1 516.2 740.7 526.9 742.8 537.5 746.0 539.7 747.2 548.2 760.4 548.2 760.4 548.2 760.4 537.5 773.5 548.2 773.5 552.8 773.5 558.8 766.0 562.0 770.3 564.2 773.5 569.5 773.5 575.9 773.5 580.1 773.5 586.7 773.5 590.8 769.5 594.5 773.5 601.5 773.5 606.6 773.5 612.1 760.4 612.1 760.4 619.2 747.2 622.8 744.2 631.6 734.1 633.4 732.4 644.0 732.2 647.6 734.1 647.6 747.2 654.7 756.0 657.7 747.2 660.0 734.1 665.3 732.2 676.0 720.9 676.0 720.9 676.0 720.9 686.6 734.1 686.6 734.1 693.0 747.2 693.0 734.1 693.0 720.9 693.0 707.8 693.0 694.7 693.0 681.5 693.0 668.4 693.0 655.2 693.0 642.1 693.0 635.5 693.0 629.0 693.0 615.8 693.0 602.7 693.0 589.5 686.6 589.5 676.0 589.5 665.3 589.5 654.7 589.5 644.0 589.5 633.4 589.5 622.8 589.5 612.1 589.5 601.5 589.5 590.8 589.5 581.9 589.5 581.2 602.7 580.6 615.8 580.1 629.0 580.1 629.0 579.9 635.5 579.8 642.1 579.8 655.2 580.1 668.4 580.1 668.4 580.1 668.4 579.9 681.5 578.4 694.7 578.2 707.8 578.4 720.9 575.9 724.0 572.4 720.9 569.5 715.2 563.0 707.8 562.0 703.4 560.8 694.7 561.0 681.5 558.8 668.4 558.8 668.4 558.8 668.4 559.0 655.2 558.8 650.9 558.3 642.1 558.0 635.5 557.7 629.0 556.9 615.8 556.8 602.7 556.4 589.5 548.2 589.5 537.5 589.5 526.9 589.5 516.2 589.5 505.6 589.5 494.9 589.5 484.3 589.5 473.6 589.5 463.0 589.5 452.4 589.5 441.7 589.5 431.0 589.5 420.4 589.5 409.8 589.5 399.1 589.5 385.9 589.5 382.9 589.5 382.0 602.7 381.6 615.8 379.0 629.0 378.9 635.5 378.8 642.1 379.4 655.2 377.8 664.4 376.8 668.4 376.9 681.5 375.1 694.7 373.5 702.2 371.6 707.8 370.3 710.2 369.5 707.8 367.1 696.5 366.7 694.7 362.6 681.5 360.5 668.4 358.1 664.9 356.5 662.6 353.5 655.2 353.2 642.1 352.7 635.5 352.4 629.0 352.2 615.8 351.2 602.7 351.8 589.5 345.9 589.5 335.2 589.5 322.1 589.5 313.9 589.5 303.2 589.5 292.6 589.5 281.9 589.5 271.3 589.5 260.6 589.5 250.0 589.5 250.0 602.7 250.0 615.8 250.0 629.0 250.0 635.5 250.0 642.1 250.0 655.2 250.0 668.4 250.0 681.5 250.0 694.7 250.0 707.8 250.0 720.9 250.0 734.1 260.6 729.7 271.3 734.1 271.3 734.1 281.9 735.3 282.9 734.1 291.8 720.9 292.6 720.1 303.2 720.9 303.2 720.9 313.9 729.2 322.1 730.3 335.2 733.0 337.1 734.1 335.2 742.8 322.1 738.5 315.5 747.2 313.9 749.6 308.6 747.2 303.2 738.5 300.2 747.2 303.2 751.6 306.5 760.4 308.6 773.5ZM255.3 707.8 260.6 702.2 264.6 707.8 260.6 713.4ZM522.6 681.5 526.9 678.2 528.4 681.5 526.9 689.4ZM673.9 668.4 676.0 667.2 678.7 668.4 676.0 671.3ZM275.6 655.2 281.9 649.6 286.5 655.2 281.9 659.2ZM437.4 655.2 441.7 652.1 446.4 655.2 441.7 660.5ZM610.8 642.1 610.5 635.5 610.3 629.0 612.1 627.1 618.2 629.0 617.4 635.5 616.4 642.1 612.1 643.7ZM468.8 635.5 473.6 630.8 477.4 635.5 473.6 640.3ZM420.4 767.7 426.3 760.4 420.4 749.4 415.1 760.4ZM441.7 773.5 452.4 773.5 463.0 773.5 466.0 773.5 464.0 760.4 463.0 759.5 452.4 760.4 452.4 760.4 441.7 763.6 435.3 773.5ZM484.3 773.5 491.4 773.5 494.9 773.1 505.6 760.4 494.9 747.6 484.6 760.4 484.3 764.7 481.3 773.5ZM693.0 773.5 693.0 766.9 686.6 773.5Z"/>
<path fill="#00ff80" fill-rule="evenodd" d="M322.1 769.5 333.3 760.4 322.1 748.3 314.2 760.4ZM494.9 769.5 502.6 760.4 494.9 751.2 487.6 760.4ZM575.9 770.8 578.6 773.5 580.1 773.5 580.7 773.5 590.8 763.8 599.9 773.5 601.5 773.5 602.6 773.5 605.0 760.4 607.4 747.2 612.1 741.4 622.8 734.1 622.8 734.1 633.4 724.2 638.7 720.9 644.0 707.8 644.0 707.8 645.6 694.7 644.0 692.5 635.2 681.5 644.0 668.4 644.0 668.4 654.7 662.4 665.3 659.6 676.0 655.2 669.6 642.1 671.7 635.5 676.0 629.0 676.0 629.0 676.0 629.0 679.4 635.5 684.0 642.1 686.6 645.9 693.0 649.3 693.0 642.1 693.0 635.5 693.0 629.0 693.0 615.8 693.0 602.7 693.0 589.5 686.6 589.5 676.0 589.5 665.3 589.5 654.7 589.5 644.0 589.5 633.4 589.5 622.8 589.5 612.1 589.5 601.5 589.5 590.8 589.5 584.9 589.5 584.0 602.7 584.7 615.8 585.2 629.0 584.5 635.5 583.9 642.1 582.7 655.2 583.0 668.4 584.9 681.5 581.1 694.7 580.6 707.8 583.5 720.9 590.8 730.4 595.6 734.1 590.8 740.7 580.1 737.4 578.9 734.1 575.9 729.0 569.5 723.2 566.8 720.9 562.0 714.4 558.8 707.8 558.8 707.8 556.2 694.7 558.1 681.5 555.5 668.4 555.9 655.2 555.7 642.1 555.6 635.5 555.5 629.0 554.5 615.8 554.2 602.7 554.0 589.5 548.2 589.5 537.5 589.5 526.9 589.5 516.2 589.5 505.6 589.5 494.9 589.5 494.9 589.5 494.9 589.5 484.3 589.5 473.6 589.5 463.0 589.5 452.4 589.5 441.7 589.5 431.0 589.5 420.4 589.5 409.8 589.5 399.1 589.5 386.3 589.5 385.9 592.8 385.0 602.7 384.5 615.8 382.0 629.0 381.4 635.5 380.9 642.1 381.7 655.2 380.5 668.4 380.6 681.5 378.9 694.7 377.8 696.7 374.8 707.8 373.5 716.2 371.0 720.9 370.3 722.0 370.0 720.9 367.1 712.2 365.2 707.8 362.2 694.7 358.1 684.4 356.5 681.5 356.5 681.5 354.6 668.4 350.2 655.2 350.0 642.1 349.7 635.5 349.4 629.0 348.8 615.8 347.8 602.7 348.5 589.5 345.9 589.5 335.2 589.5 322.1 589.5 313.9 589.5 303.2 589.5 292.6 589.5 281.9 589.5 271.3 589.5 260.6 589.5 250.0 589.5 250.0 602.7 250.0 615.8 250.0 629.0 250.0 635.5 250.0 642.1 250.0 655.2 250.0 668.4 250.0 681.5 250.0 694.7 260.6 687.2 269.4 681.5 271.3 680.3 279.5 668.4 271.3 661.1 260.6 663.5 254.0 655.2 260.6 642.1 260.6 642.1 271.3 635.5 271.3 635.5 271.3 635.5 281.9 636.0 292.6 638.8 303.2 638.8 313.9 638.2 317.4 642.1 313.9 644.9 304.9 655.2 303.2 658.5 297.9 668.4 292.6 676.3 286.0 681.5 288.3 694.7 281.9 702.5 277.2 707.8 271.3 716.0 267.8 720.9 271.3 724.0 281.9 723.2 283.6 720.9 292.6 711.9 299.3 707.8 303.2 703.4 313.9 702.7 322.1 703.4 325.8 707.8 322.1 720.9 335.2 727.8 345.9 733.3 346.7 734.1 355.5 747.2 356.5 749.5 358.1 750.3 367.1 753.8 370.3 753.3 373.5 752.9 377.8 752.5 385.9 752.9 397.8 747.2 399.1 746.0 404.4 734.1 409.8 725.3 413.6 720.9 420.4 707.8 420.4 707.8 431.0 695.7 441.7 694.7 441.7 694.7 449.7 681.5 441.7 675.9 437.8 668.4 431.0 660.0 428.0 655.2 431.0 650.5 441.7 644.4 452.4 650.9 460.5 655.2 463.0 658.1 473.6 663.5 479.0 668.4 484.3 673.6 487.8 668.4 494.9 655.2 494.9 655.2 494.9 655.2 501.3 668.4 505.6 677.1 516.2 671.9 523.4 668.4 526.9 665.8 528.7 668.4 533.5 681.5 531.2 694.7 526.9 703.4 521.6 707.8 522.3 720.9 526.9 726.6 537.5 734.1 537.5 734.1 548.2 740.7 558.8 744.8 560.2 747.2 562.0 753.2 569.5 760.1 569.9 760.4ZM612.1 707.8 609.0 694.7 612.1 687.4 622.8 691.7 624.5 694.7 625.8 707.8 622.8 710.0ZM622.0 668.4 616.8 655.2 612.1 652.0 604.6 642.1 605.3 635.5 605.9 629.0 612.1 622.4 622.8 624.1 633.4 629.0 633.4 629.0 635.2 635.5 636.4 642.1 636.1 655.2 633.4 659.0 624.5 668.4 622.8 671.3ZM462.0 642.1 462.5 635.5 463.0 629.0 463.0 629.0 473.6 625.0 480.4 629.0 482.2 635.5 479.9 642.1 473.6 649.8 463.0 647.4ZM522.6 635.5 526.9 633.3 528.2 635.5 526.9 638.0ZM484.3 615.8 484.3 615.8 484.3 615.8ZM638.2 615.8 644.0 607.1 652.0 602.7 654.7 600.8 655.5 602.7 658.2 615.8 654.7 620.5 644.0 623.0ZM665.3 722.8 667.1 720.9 676.0 717.1 685.1 707.8 679.5 694.7 676.0 691.6 672.5 694.7 666.5 707.8 665.3 715.7 662.3 720.9ZM463.0 709.9 473.6 709.3 475.4 707.8 473.6 694.7 473.6 694.7 463.0 688.5 452.4 694.7 457.1 707.8ZM494.9 698.5 499.0 694.7 502.1 681.5 494.9 676.3 489.9 681.5 490.9 694.7Z"/>
<path fill="#00f000" fill-rule="evenodd" d="M322.1 765.5 328.4 760.4 322.1 753.5 317.6 760.4ZM495.0 765.8 499.5 760.4 495.0 754.9 490.5 760.4ZM580.1 762.7 583.7 760.4 583.2 747.2 580.1 745.6 575.9 734.1 575.9 734.1 569.5 727.7 562.0 723.1 561.2 720.9 558.8 717.9 548.2 711.1 543.6 720.9 548.2 726.6 554.3 734.1 558.8 736.5 562.0 740.2 564.3 747.2 569.5 754.5 575.9 755.8 578.4 760.4ZM356.5 736.1 358.1 735.9 367.1 734.1 365.6 720.9 360.5 707.8 358.1 696.9 357.3 694.7 356.5 693.5 351.9 681.5 348.4 668.4 346.8 655.2 346.8 642.1 346.6 635.5 346.4 629.0 345.9 620.2 345.5 615.8 344.8 602.7 345.2 589.5 335.2 589.5 322.1 589.5 313.9 589.5 303.2 589.5 303.2 589.5 292.6 602.7 292.6 602.7 292.6 602.7 281.9 596.1 278.0 602.7 274.9 615.8 281.9 623.3 288.3 629.0 292.6 630.6 303.2 630.6 307.5 629.0 313.9 623.3 322.0 622.0 328.0 629.0 327.0 635.5 326.0 642.1 322.1 650.0 313.9 654.3 313.1 655.2 308.6 668.4 305.6 681.5 313.9 689.9 322.1 689.9 329.7 681.5 332.6 668.4 335.2 667.4 337.3 668.4 336.9 681.5 337.9 694.7 335.2 707.8 335.2 707.8 332.2 720.9 335.2 722.5 345.9 725.6 355.2 734.1ZM370.3 736.2 373.5 737.9 377.8 739.7 385.9 744.6 399.1 734.1 395.8 720.9 397.7 707.8 395.1 694.7 399.1 685.9 401.9 681.5 403.1 668.4 406.8 655.2 404.4 642.1 406.2 635.5 409.8 632.7 412.8 629.0 413.3 615.8 420.4 610.9 431.0 609.8 440.2 615.8 431.0 629.0 441.7 633.7 449.7 635.5 452.4 642.1 452.8 635.5 453.3 629.0 463.0 615.8 463.0 602.7 458.2 589.5 452.4 589.5 441.7 589.5 431.0 589.5 420.4 589.5 409.8 589.5 399.1 589.5 390.3 589.5 389.4 602.7 390.3 615.8 386.0 624.0 385.0 629.0 383.9 635.5 383.0 642.1 384.0 655.2 384.4 668.4 384.6 681.5 382.6 694.7 377.8 703.7 376.7 707.8 377.8 719.1 378.6 720.9 377.8 724.2 373.5 731.0 370.3 733.1 367.1 734.1ZM590.8 723.1 601.5 725.3 605.0 720.9 603.9 707.8 602.7 694.7 601.5 690.6 592.7 681.5 601.5 673.6 612.1 672.8 614.4 668.4 612.1 664.0 601.5 660.5 600.3 655.2 596.1 642.1 596.6 635.5 601.5 629.0 601.5 629.0 612.1 617.7 622.8 617.2 625.8 615.8 631.6 602.7 633.4 601.7 644.0 589.5 633.4 589.5 622.8 589.5 612.1 589.5 601.5 589.5 590.8 589.5 587.8 589.5 586.7 602.7 588.8 615.8 590.3 629.0 589.3 635.5 588.5 642.1 585.8 655.2 585.9 668.4 590.3 681.5 586.0 694.7 585.0 707.8 589.1 720.9ZM409.8 712.7 412.2 707.8 412.4 694.7 409.8 691.2 406.2 694.7 405.2 707.8ZM676.0 713.2 681.3 707.8 676.0 699.4 670.5 707.8ZM537.5 707.8 548.2 706.7 552.4 694.7 554.3 681.5 552.2 668.4 552.7 655.2 553.1 642.1 553.2 635.5 553.2 629.0 552.1 615.8 551.6 602.7 551.6 589.5 548.2 589.5 537.5 589.5 526.9 589.5 516.2 589.5 508.1 589.5 505.6 591.8 495.0 597.8 484.3 590.2 473.6 591.7 463.0 602.7 463.0 615.8 473.6 619.2 477.6 615.8 484.3 613.0 493.2 615.8 489.6 629.0 487.5 635.5 489.6 642.1 495.0 646.5 505.6 655.2 509.2 642.1 508.9 635.5 508.6 629.0 516.2 623.0 526.9 626.0 529.0 629.0 532.4 635.5 531.0 642.1 537.5 653.8 538.3 655.2 540.7 668.4 538.7 681.5 537.5 688.1 536.5 694.7ZM420.4 682.5 421.4 681.5 427.1 668.4 420.4 655.2 415.1 668.4 419.5 681.5ZM484.3 656.9 485.3 655.2 484.3 653.0 482.5 655.2ZM654.7 631.6 656.5 629.0 654.7 628.2 652.9 629.0ZM686.6 630.4 693.0 633.3 693.0 629.0 693.0 615.8 693.0 606.0 686.6 602.7 686.6 602.7 686.6 602.7 690.5 589.5 686.6 589.5 676.0 589.5 665.3 589.5 665.3 589.5 663.7 602.7 664.2 615.8 665.3 619.6 676.0 618.9 685.7 629.0ZM258.3 602.7 260.6 600.2 268.9 589.5 260.6 589.5 250.0 589.5 250.0 602.7 250.0 612.4Z"/>
<path fill="#ffff00" fill-rule="evenodd" d="M322.1 761.6 323.5 760.4 322.1 758.8 321.0 760.4ZM494.9 762.2 496.5 760.4 494.9 758.5 493.5 760.4ZM569.5 748.9 572.1 747.2 571.3 734.1 569.5 732.3 566.2 734.1 568.3 747.2ZM356.5 726.4 358.1 720.9 356.5 713.1 350.1 720.9ZM345.9 712.2 349.4 707.8 349.7 694.7 347.2 681.5 345.9 677.1 343.8 681.5 343.2 694.7 344.1 707.8ZM385.9 720.4 394.3 707.8 385.9 695.2 379.0 707.8ZM590.8 711.7 594.0 707.8 590.8 694.7 589.5 707.8ZM676.0 709.3 677.5 707.8 676.0 705.4 674.4 707.8ZM548.2 695.8 548.6 694.7 550.5 681.5 548.9 668.4 549.5 655.2 550.5 642.1 550.7 635.5 550.9 629.0 549.7 615.8 549.0 602.7 549.2 589.5 548.2 589.5 537.5 589.5 526.9 589.5 516.2 589.5 514.4 589.5 505.6 597.5 498.2 602.7 505.6 610.6 516.2 613.1 521.6 615.8 526.9 618.7 534.4 629.0 536.7 635.5 537.5 638.8 539.5 642.1 545.4 655.2 546.9 668.4 544.7 681.5 547.0 694.7ZM590.8 674.1 596.1 668.4 594.3 655.2 590.8 648.1 588.9 655.2 588.8 668.4ZM335.2 658.1 338.4 655.2 339.1 642.1 337.9 635.5 336.4 629.0 341.5 615.8 342.1 602.7 342.2 589.5 335.2 589.5 322.1 589.5 314.3 589.5 317.6 602.7 322.1 612.5 323.5 615.8 334.5 629.0 333.6 635.5 332.6 642.1 330.8 655.2ZM399.1 659.2 400.9 655.2 399.1 650.3 391.8 642.1 385.9 637.3 385.1 642.1 385.9 651.7 390.3 655.2ZM495.0 638.0 498.0 635.5 495.0 632.7 493.2 635.5ZM292.6 620.2 296.9 615.8 292.6 612.1 288.3 615.8ZM252.4 602.7 260.6 593.9 264.0 589.5 260.6 589.5 250.0 589.5 250.0 602.7 250.0 605.4ZM399.1 615.8 405.8 602.7 406.7 589.5 399.1 589.5 394.2 589.5 394.2 602.7ZM473.6 612.1 484.3 610.1 493.5 602.7 484.3 593.7 473.6 597.2 468.3 602.7ZM590.8 609.2 601.5 615.8 612.1 609.2 617.9 602.7 622.8 598.3 633.4 591.6 635.2 589.5 633.4 589.5 622.8 589.5 612.1 589.5 601.5 589.5 590.8 589.5 590.8 589.5 589.4 602.7ZM420.4 602.7 431.0 599.6 441.7 602.7 447.6 589.5 441.7 589.5 431.0 589.5 420.4 589.5 412.0 589.5ZM676.0 602.7 680.4 589.5 676.0 589.5 672.4 589.5Z"/>
<path fill="#ff8000" fill-rule="evenodd" d="M385.9 715.2 390.8 707.8 385.9 700.4 381.9 707.8ZM548.2 637.7 548.3 635.5 548.7 629.0 548.2 624.6 545.3 615.8 544.5 602.7 545.2 589.5 537.5 589.5 526.9 589.5 526.9 602.7 530.8 615.8 537.5 625.3 544.7 629.0 547.6 635.5ZM335.2 621.1 337.6 615.8 339.5 602.7 339.2 589.5 335.2 589.5 322.1 589.5 317.8 589.5 322.1 599.4 324.7 602.7 330.8 615.8ZM484.3 607.3 490.0 602.7 484.3 597.1 473.6 602.7ZM516.2 606.1 526.9 602.7 516.2 597.2 507.4 602.7ZM601.5 609.6 609.3 602.7 612.1 596.1 622.8 589.5 612.1 589.5 601.5 589.5 597.9 589.5 594.1 602.7ZM399.1 602.7 400.6 589.5 399.1 589.5 398.1 589.5ZM420.4 595.8 431.0 589.5 420.4 589.5 416.4 589.5Z"/>
<path fill="#ff0000" fill-rule="evenodd" d="M385.9 709.9 387.3 707.8 385.9 705.7 384.8 707.8ZM537.5 616.3 537.9 615.8 539.1 602.7 540.1 589.5 537.5 589.5 534.0 589.5 535.1 602.7 537.2 615.8ZM335.2 610.6 336.8 602.7 336.1 589.5 335.2 589.5 322.1 589.5 321.3 589.5 322.1 591.2 331.3 602.7ZM484.3 604.4 486.4 602.7 484.3 600.6 480.3 602.7ZM601.5 603.3 602.2 602.7 601.5 600.5 600.8 602.7Z"/>
</g>
<path d="M249.5,589.0 H693.0 M249.5,588.5 V774.1 M249.0,773.9 H693.0" stroke="#1a1a1a" stroke-width="1.2" fill="none"/>
<path d="M246.5,773.5 H249.5 M247.5,760.4 H249.5 M246.5,747.2 H249.5 M247.5,734.1 H249.5 M246.5,720.9 H249.5 M247.5,707.8 H249.5 M246.5,694.7 H249.5 M247.5,681.5 H249.5 M246.5,668.4 H249.5 M247.5,655.2 H249.5 M246.5,642.1 H249.5 M247.5,629.0 H249.5 M246.5,615.8 H249.5 M247.5,602.7 H249.5 M246.5,589.5 H249.5 M253.3,774.0 V777.2 M358.7,774.0 V776.2 M464.1,774.0 V777.2 M569.5,774.0 V776.2 M674.9,774.0 V777.2" stroke="#1a1a1a" stroke-width="1.1" fill="none"/>
<g class="sans" font-size="18" fill="#000">
<text x="243.5" y="779.8" text-anchor="end">0</text>
<text x="243.5" y="753.5" text-anchor="end">20</text>
<text x="243.5" y="727.2" text-anchor="end">40</text>
<text x="243.5" y="701.0" text-anchor="end">60</text>
<text x="243.5" y="674.7" text-anchor="end">80</text>
<text x="243.5" y="648.4" text-anchor="end">100</text>
<text x="243.5" y="622.1" text-anchor="end">120</text>
<text x="243.5" y="595.8" text-anchor="end">140</text>
<text x="251.5" y="793.2" text-anchor="middle">0</text>
<text x="464.1" y="793.2" text-anchor="middle">200</text>
<text x="674.9" y="793.2" text-anchor="middle">400</text>
</g>
<text class="sans" x="375.8" y="815" font-size="20" fill="#000" textLength="197" lengthAdjust="spacingAndGlyphs">Electrode width (<tspan font-family="Liberation Serif" font-weight="normal">μ</tspan>m)</text>
<text class="sans" transform="translate(202.5,778.5) rotate(-90)" font-size="20" fill="#000" textLength="199" lengthAdjust="spacingAndGlyphs">Electrode depth (<tspan font-family="Liberation Serif" font-weight="normal">μ</tspan>m)</text>
<rect x="697.8" y="739.4" width="20.0" height="17.2" fill="#000000"/>
<rect x="697.8" y="722.5" width="20.0" height="17.2" fill="#0000fe"/>
<rect x="697.8" y="705.6" width="20.0" height="17.2" fill="#0080ff"/>
<rect x="697.8" y="688.7" width="20.0" height="17.2" fill="#00ffff"/>
<rect x="697.8" y="671.8" width="20.0" height="17.2" fill="#00ff80"/>
<rect x="697.8" y="654.9" width="20.0" height="17.2" fill="#00f000"/>
<rect x="697.8" y="638.0" width="20.0" height="17.2" fill="#ffff00"/>
<rect x="697.8" y="621.1" width="20.0" height="17.2" fill="#ff8000"/>
<rect x="697.8" y="604.2" width="20.0" height="17.2" fill="#ff0000"/>
<text class="b" transform="translate(714.3,599.9) rotate(-90)" font-size="21.33" fill="#000">H</text>
<text class="b" transform="translate(714.3,776.6) rotate(-90)" font-size="21.33" fill="#000">L</text>
<text class="b" transform="translate(737.7,753.5) rotate(-90)" font-size="21.33" fill="#000" textLength="150.5" lengthAdjust="spacingAndGlyphs">Li concentration</text>
</svg>
</body>
</html>
